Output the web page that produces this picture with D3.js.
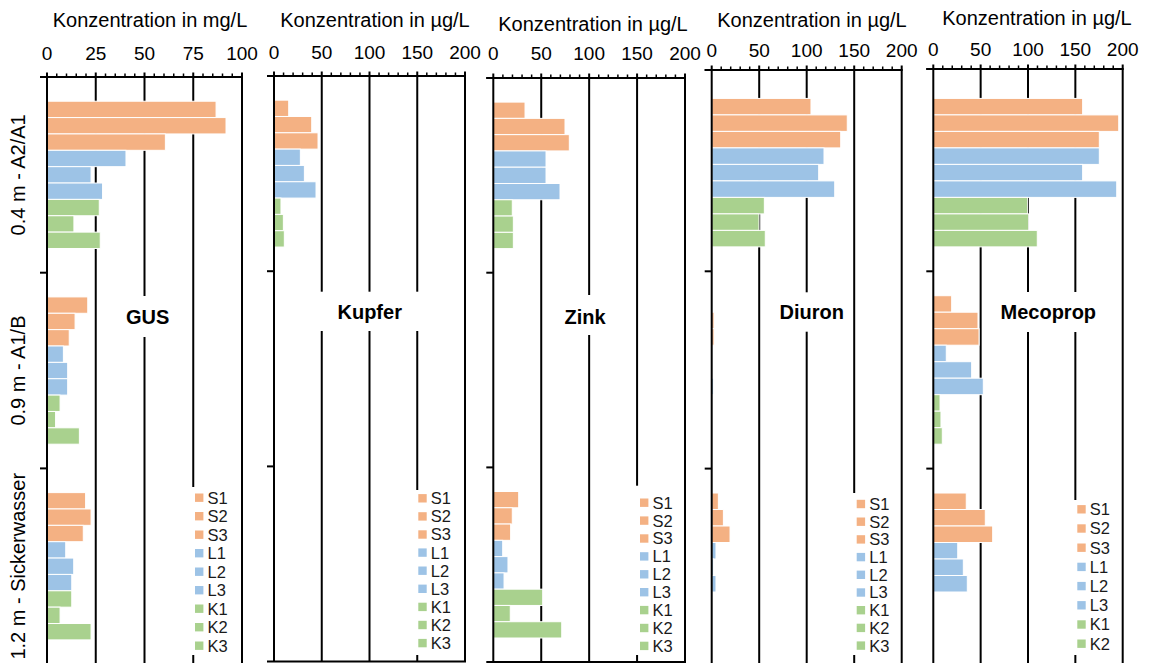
<!DOCTYPE html>
<html>
<head>
<meta charset="utf-8">
<script src="https://cdn.jsdelivr.net/npm/d3@7"></script>
<style>
  html, body { margin: 0; padding: 0; background: #fff; }
  svg { display: block; font-family: "Liberation Sans", Arial, sans-serif; }
</style>
</head>
<body>
<svg id="chart" width="1149" height="663"></svg>
<script>
// ---------- data ----------
const series = ["S1", "S2", "S3", "L1", "L2", "L3", "K1", "K2", "K3"];
const depths = ["0.4 m - A2/A1", "0.9 m - A1/B", "1.2 m - Sickerwasser"];
const panelNames = ["GUS", "Kupfer", "Zink", "Diuron", "Mecoprop"];
const axisTitles = ["Konzentration in mg/L", "Konzentration in µg/L", "Konzentration in µg/L", "Konzentration in µg/L", "Konzentration in µg/L"];
const ticksMg = [0, 25, 50, 75, 100];
const ticksUg = [0, 50, 100, 150, 200];

// values per depth: rows = depths, columns = series S1..K3
const gus = [
  [86.7, 91.8, 60.7, 40.5, 22.6, 28.5, 26.8, 13.8, 27.3],
  [20.9, 14.4, 11.4, 8.4, 10.6, 10.6, 6.7, 4.4, 16.6],
  [19.8, 22.6, 18.6, 9.6, 13.7, 12.7, 12.7, 6.7, 22.6]
];
const kupfer = [
  [15.4, 39.5, 46.1, 27.6, 31.8, 44.0, 7.3, 9.8, 10.8],
  [0, 0, 0, 0, 0, 0, 0, 0, 0],
  [0, 0, 0, 0, 0, 0, 0, 0, 0]
];
const zink = [
  [33.1, 74.8, 79.3, 55.0, 55.0, 69.6, 19.8, 20.9, 20.9],
  [0, 0, 0, 0, 0, 0, 0, 0, 0],
  [26.5, 19.8, 18.1, 9.8, 15.3, 11.2, 51.5, 17.7, 71.4]
];
const diuron = [
  [104.5, 142.7, 135.8, 118.2, 112.6, 129.5, 55.4, 49.8, 56.4],
  [0, 2.5, 2.5, 0, 0, 2, 0, 0, 0],
  [7, 12.3, 19.3, 4.5, 2, 4.5, 0, 0, 0]
];
const mecoprop = [
  [157.7, 195.8, 175.3, 175.3, 157.7, 193.7, 99.7, 100.7, 109.8],
  [19.4, 47.2, 48.3, 13.7, 40.5, 52.8, 7.1, 8.1, 9.5],
  [34.8, 54.9, 62.7, 25.8, 31.7, 35.9, 0, 0, 0]
];
const panelValues = [gus, kupfer, zink, diuron, mecoprop];
const panelTicks = [ticksMg, ticksUg, ticksUg, ticksUg, ticksUg];
const minorSteps = [5, 10, 10, 10, 10];

// ---------- layout / style ----------
const colorOf = s => s[0] === "S" ? "#F4B183" : (s[0] === "L" ? "#9DC3E6" : "#A9D18E");
const layout = [
  {x0: 47,    x1: 242,    axisY: 77, bandTop: 77, step: 195.7, titleX: 150,  titleY: 20, tickY: 53,
   lblX: 147.7, lblY: 317, boxTop: 296, boxBot: 337, boxHW: 30,
   legX: 195, legY: 497.7, legStep: 18.5, legTop: 487},
  {x0: 274,   x1: 465,    axisY: 76, bandTop: 76, step: 195.2, titleX: 375,  titleY: 20, tickY: 52,
   lblX: 369.7, lblY: 311.7, boxTop: 291.7, boxBot: 331, boxHW: 52,
   legX: 418.3, legY: 498.3, legStep: 18.1, legTop: 490},
  {x0: 493.3, x1: 685,    axisY: 78, bandTop: 78, step: 194.7, titleX: 593,  titleY: 24, tickY: 53,
   lblX: 585, lblY: 316.7, boxTop: 295, boxBot: 335, boxHW: 25,
   legX: 640, legY: 502.7, legStep: 17.9, legTop: 485.7},
  {x0: 711.7, x1: 901.7,  axisY: 70, bandTop: 74, step: 197.3, titleX: 812,  titleY: 20, tickY: 50,
   lblX: 811.7, lblY: 312.3, boxTop: 292.3, boxBot: 331.7, boxHW: 38,
   legX: 856.7, legY: 504, legStep: 17.7, legTop: 493},
  {x0: 933.3, x1: 1122.7, axisY: 69, bandTop: 74, step: 197.3, titleX: 1037, titleY: 18, tickY: 49,
   lblX: 1048.3, lblY: 312.3, boxTop: 292, boxBot: 332, boxHW: 55,
   legX: 1077.3, legY: 509.3, legStep: 19.2, legTop: 500}
];
const legBottom = 655;

const svg = d3.select("#chart");
svg.append("rect").attr("width", 1149).attr("height", 663).attr("fill", "#fff");

panelNames.forEach((name, p) => {
  const L = layout[p];
  const vals = panelValues[p];
  const ticks = panelTicks[p];
  const maxV = ticks[ticks.length - 1];
  const x = d3.scaleLinear().domain([0, maxV]).range([L.x0, L.x1]);
  const bottom = L.bandTop + 3 * L.step;
  const yGroup = d3.scaleBand().domain(depths).range([L.bandTop, bottom]).padding(0);
  const yBar = d3.scaleBand().domain(series).range([0, L.step]).paddingInner(0).paddingOuter(1.48);

  const g = svg.append("g");

  // gridlines (major values > 0)
  g.selectAll("line.grid").data(ticks.filter(t => t > 0)).join("line")
    .attr("x1", d => x(d)).attr("x2", d => x(d))
    .attr("y1", L.axisY).attr("y2", bottom)
    .attr("stroke", "#000").attr("stroke-width", 2);

  // bottom edge
  g.append("line").attr("x1", L.x0 - 7).attr("x2", L.x1 + 1)
    .attr("y1", bottom).attr("y2", bottom)
    .attr("stroke", "#000").attr("stroke-width", 2);

  // panel label box + text
  g.append("rect").attr("x", L.lblX - L.boxHW).attr("width", 2 * L.boxHW)
    .attr("y", L.boxTop).attr("height", L.boxBot - L.boxTop).attr("fill", "#fff");
  g.append("text").attr("x", L.lblX).attr("y", L.lblY).attr("dy", "0.35em")
    .attr("text-anchor", "middle").attr("font-weight", "bold").attr("font-size", 20)
    .attr("fill", "#000").text(name);

  // bars
  depths.forEach((dep, di) => {
    const gy = yGroup(dep);
    g.selectAll(null).data(series.map((s, si) => ({s, v: vals[di][si]})).filter(d => d.v > 0))
      .join("rect")
      .attr("x", x(0))
      .attr("y", d => gy + yBar(d.s))
      .attr("width", d => x(d.v) - x(0))
      .attr("height", yBar.step())
      .attr("fill", d => colorOf(d.s))
      .attr("stroke", "#fff").attr("stroke-width", 1);
  });

  // left (category) axis line + boundary ticks
  g.append("line").attr("x1", x(0)).attr("x2", x(0)).attr("y1", L.axisY).attr("y2", bottom)
    .attr("stroke", "#000").attr("stroke-width", 2);
  const bounds = [L.axisY].concat(depths.slice(1).map(d => yGroup(d)));
  g.selectAll("line.ctick").data(bounds).join("line")
    .attr("x1", x(0) - 7).attr("x2", x(0)).attr("y1", d => d).attr("y2", d => d)
    .attr("stroke", "#000").attr("stroke-width", 2);

  // top value axis
  const minor = d3.range(0, maxV + 0.001, minorSteps[p]).filter(v => ticks.indexOf(v) < 0);
  g.append("line").attr("x1", x(0) - 7).attr("x2", x(maxV) + 1).attr("y1", L.axisY).attr("y2", L.axisY)
    .attr("stroke", "#000").attr("stroke-width", 2);
  g.selectAll("line.minor").data(minor).join("line")
    .attr("x1", d => x(d)).attr("x2", d => x(d)).attr("y1", L.axisY - 3.5).attr("y2", L.axisY)
    .attr("stroke", "#000").attr("stroke-width", 1.5);
  g.selectAll("line.major").data(ticks).join("line")
    .attr("x1", d => x(d)).attr("x2", d => x(d)).attr("y1", L.axisY - 4.5).attr("y2", L.axisY)
    .attr("stroke", "#000").attr("stroke-width", 2);
  g.selectAll("text.tick").data(ticks).join("text")
    .attr("x", d => x(d)).attr("y", L.tickY).attr("dy", "0.35em")
    .attr("text-anchor", "middle").attr("font-size", 19).attr("fill", "#000")
    .text(d => d);
  g.append("text").attr("x", L.titleX).attr("y", L.titleY).attr("dy", "0.35em")
    .attr("text-anchor", "middle").attr("font-size", 20).attr("fill", "#000")
    .text(axisTitles[p]);

  // legend (only entries that fit inside the plot area are shown)
  const fitting = series.filter((s, i) => L.legY + i * L.legStep + 8 <= legBottom + 2);
  const lg = g.append("g");
  lg.append("rect").attr("x", L.legX - 5).attr("y", L.legTop).attr("width", 45)
    .attr("height", legBottom - L.legTop).attr("fill", "#fff");
  const items = lg.selectAll("g.item").data(fitting).join("g")
    .attr("transform", (d, i) => `translate(${L.legX},${L.legY + i * L.legStep})`);
  items.append("rect").attr("x", 0).attr("y", -4.2).attr("width", 8.4).attr("height", 8.4)
    .attr("fill", d => colorOf(d));
  items.append("text").attr("x", 12.5).attr("y", 0).attr("dy", "0.36em")
    .attr("font-size", 16.5).attr("fill", "#1a1a1a").text(d => d);

  // category labels (first panel only)
  if (p === 0) {
    depths.forEach(dep => {
      const cy = yGroup(dep) + yGroup.bandwidth() / 2;
      svg.append("text")
        .attr("transform", `translate(18,${cy}) rotate(-90)`)
        .attr("dy", "0.35em").attr("text-anchor", "middle")
        .attr("font-size", 20).attr("fill", "#000").text(dep);
    });
  }
});
</script>
</body>
</html>
